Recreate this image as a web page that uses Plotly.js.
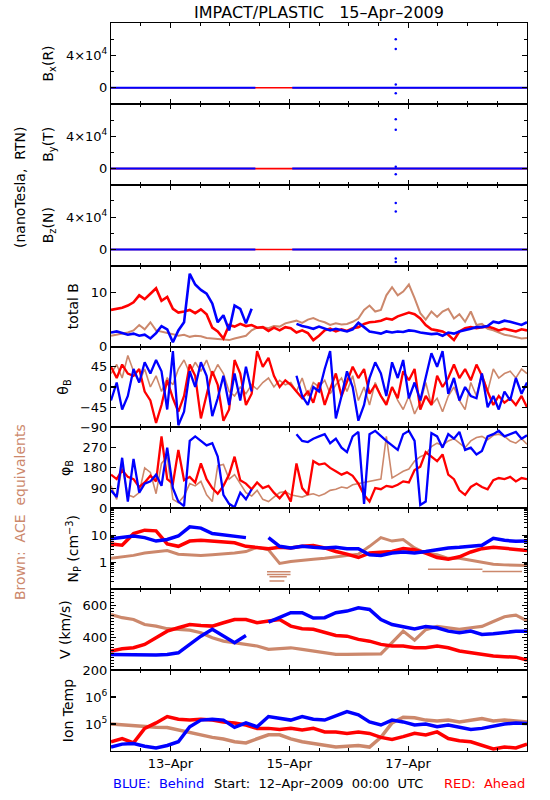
<!DOCTYPE html>
<html>
<head>
<meta charset="utf-8">
<script src="https://cdn.plot.ly/plotly-3.0.1.min.js"></script>
<style>body{margin:0;padding:0;background:#fff;} #plot{width:550px;height:800px;}</style>
</head>
<body>
<div id="plot"></div>
<script>
// ---------- DATA (hours after 12-Apr-2009 00:00 UTC) ----------
const tF = [0,2.3,4.5,6.8,9.1,11.4,13.6,15.9,18.2,20.4,
22.7,25,27.2,29.5,31.8,34,36.3,38.6,40.9,43.1,
45.4,47.7,49.9,52.2,54.5,56.8,59,61.3,63.6,65.8,
68.1,70.4,72.6,74.9,77.2,79.5,81.7,84,86.3,88.5,
90.8,93.1,95.3,97.6,99.9,102.2,104.4,106.7,109,111.2,
113.5,115.8,118,120.3,122.6,124.9,127.1,129.4,131.7,133.9,
136.2,138.5,140.7,143,145.3,147.6,149.8,152.1,154.4,156.6,
158.9,161.2,163.5,165.8,168];
const tG = [0,4.5,9.1,13.6,18.2,22.7,27.2,31.8,36.3,40.9,
45.4,49.9,54.5,59,63.6,68.1,72.6,77.2,81.7,86.3,
90.8,95.3,99.9,104.4,109,113.5,118,122.6,127.1,131.7,
136.2,140.7,145.3,149.8,154.4,158.9,163.5,168];

// Bx/By/Bz: flat traces and isolated spikes
const magBlueT = [0,58.3,null,73.2,168];
const magBlueV = [0,0,null,0,0];
const magRedT = [0,168];
const magRedV = [0,0];
const spikeT = [115,115,115,115];
const bxSpikes = [60000,48000,4000,-6700];
const bySpikes = [61000,48000,2400,-7000];
const bzSpikes = [57500,47000,-11000,-15500];

// total B (nT)
const btRed = [6.8,7.0,7.2,7.6,8.2,9.5,8.8,9.8,10.8,8.5,
9.2,7.0,6.3,6.5,6.8,6.2,6.9,6.0,3.5,2.8,
1.5,4.0,3.7,4.2,3.8,4.0,3.5,3.6,2.9,3.5,
3.0,3.6,3.4,2.6,3.0,2.5,1.2,2.0,3.0,3.3,
2.8,3.2,2.9,3.4,3.6,4.2,4.5,4.6,4.8,5.2,
5.0,5.6,5.9,6.3,6.0,5.2,4.0,3.2,3.0,2.8,
2.2,1.2,2.8,3.4,3.6,3.4,3.6,3.7,3.4,3.0,
3.3,3.0,2.8,3.2,3.0];
const btBlue = [2.6,2.8,2.5,2.2,2.4,2.0,2.2,1.5,2.5,3.8,
3.2,0.8,3.0,4.5,13.5,11.5,10.5,9.8,8.0,4.5,
5.8,3.0,7.6,7.0,4.3,7.0,null,null,null,null,
null,null,null,4.2,3.8,3.6,3.3,3.7,3.4,3.0,
3.3,3.1,2.8,3.2,4.4,3.6,2.8,2.6,2.4,2.8,
2.6,2.8,2.7,3.0,2.9,2.6,2.5,2.3,2.4,2.0,
2.6,2.4,2.8,3.0,3.3,3.6,3.6,3.8,4.6,4.4,
4.8,4.6,4.3,4.0,4.5];
const btBrown = [2.0,2.2,2.5,2.6,3.0,4.0,3.2,4.5,3.0,2.8,
2.5,2.3,2.0,2.2,1.8,2.0,1.9,1.6,1.5,1.4,
1.3,1.2,1.5,1.8,2.0,3.0,3.5,3.6,3.4,3.8,
3.7,4.3,4.5,4.8,4.4,5.0,5.3,4.8,4.5,4.0,
4.3,4.1,4.2,4.6,5.2,6.8,7.6,6.5,6.8,9.5,
11.0,9.5,10.2,11.5,9.0,6.2,5.0,6.5,5.5,6.5,
7.0,5.2,6.0,4.6,6.5,4.0,4.2,3.3,3.0,2.6,
2.2,2.0,1.8,1.5,1.6];

// theta_B (deg)
const thRed = [45,20,50,30,25,40,-10,-30,-80,-40,
15,-25,-55,-20,50,25,-70,-15,35,5,
-75,-50,60,30,-40,-15,80,45,65,25,
0,15,5,-10,-25,-10,-35,10,-40,-5,
30,-20,10,45,20,40,-15,5,-20,-40,
0,-25,35,15,40,-50,-20,-40,25,0,
20,50,20,40,15,50,25,-10,-40,-20,
-35,-25,-40,-20,-45];
const thBlue = [-30,10,-50,-20,40,10,55,30,60,35,
-50,80,-85,-55,35,0,55,25,-65,-25,
25,-40,30,-30,45,-10,null,null,null,null,
null,null,null,25,-20,-40,0,-10,40,80,
-70,-20,35,0,-75,-40,20,55,30,-20,
55,20,60,-25,10,-30,20,75,45,80,
-15,20,-30,0,-20,-25,30,-45,-20,-50,
-10,-30,20,-15,10];
const thBrown = [30,50,20,70,35,10,40,0,25,-10,
20,5,40,60,30,55,35,60,25,50,
30,-10,-20,0,-15,5,-5,10,20,0,
15,5,10,-10,20,-20,10,0,15,-15,
5,20,-10,25,-30,0,-40,10,-20,-35,
0,-30,-50,-20,-60,-35,10,-40,-25,-55,
-20,0,-30,-50,10,-20,30,-10,40,20,
30,35,20,40,30];

// phi_B (deg)
const phRed = [150,130,170,140,130,95,115,145,120,320,
130,110,260,125,140,115,200,130,90,65,
100,150,230,125,110,85,115,90,100,70,
45,75,30,200,90,60,210,195,200,180,
165,150,160,145,110,60,30,90,85,100,
95,105,120,115,170,185,250,230,210,240,
150,130,80,60,95,110,95,85,125,135,
130,140,120,135,130];
const phBlue = [80,50,225,30,220,70,110,120,150,100,
270,90,30,10,300,320,300,280,290,230,
60,20,5,70,40,85,null,null,null,null,
null,null,null,330,300,295,310,320,330,290,
310,270,250,320,340,20,330,345,320,300,
280,260,330,345,300,15,30,335,320,270,
330,310,340,260,270,240,255,320,330,345,
320,330,340,310,325];
const phBrown = [100,40,190,60,50,70,180,160,65,200,
230,40,25,55,110,100,120,60,30,190,
195,130,150,110,70,55,80,40,30,50,
70,75,60,55,50,60,65,55,65,80,
85,95,90,105,110,115,120,125,130,320,
135,150,165,175,210,230,240,275,290,280,
300,310,290,270,300,315,320,305,325,330,
320,300,290,310,285];

// proton density (cm^-3)
const npBlue = [7.5,8.2,9.4,8.2,6.1,7,9.4,20.7,18.5,11.6,
10.3,8.6,8.2,null,8.2,3.9,3.4,3.9,3.6,3.4,
3.6,3.2,3.2,1.9,1.8,2.2,2.4,2.2,2.5,2.9,
3.4,3.6,3.9,4.3,7.7,6.5,6.0,6.2];
const npRed = [4.8,4.3,11.5,15.5,14.6,4.8,3.9,6.1,6.5,6.1,
5.7,5.3,3.9,3.6,3.2,3.6,3.4,3.9,4.2,3.4,
2.5,2.0,1.5,2.2,2.4,2.5,3.2,2.9,2.2,1.5,
1.3,1.6,2.4,3.2,3.6,3.4,3.0,2.7];
const npBrown = [1.4,1.6,1.8,2.2,2.5,2.7,2.0,1.9,1.8,1.9,
2.0,2.2,2.5,3.6,2.9,0.9,1.06,1.2,1.3,1.4,
1.6,1.8,2.0,3.9,8.2,6.1,7,3.4,2.2,1.9,
1.4,1.4,1.2,1.0,0.84,0.8,0.8,0.75];
const npBrownLowT = [63,72.5,null,63,72.5,null,64,71,null,64,70,null,128,150,null,150,166];
const npBrownLowV = [0.44,0.44,null,0.35,0.35,null,0.29,0.29,null,0.2,0.2,null,0.55,0.55,null,0.45,0.45];

// bulk speed (km/s)
const vBlue = [297,296,294,293,294,297,307,359,410,452,
410,369,414,null,497,524,555,555,522,524,
555,565,585,575,513,482,470,455,470,462,
441,431,441,420,425,431,440,440];
const vRed = [318,332,338,359,400,441,462,482,476,472,
493,513,513,493,503,513,472,456,452,431,
414,410,390,379,359,349,349,338,338,349,
338,318,307,297,287,283,280,262];
const vBrown = [544,524,513,482,472,456,452,447,431,400,
379,369,359,349,328,332,338,328,318,307,
297,297,297,297,300,370,441,385,450,470,
460,452,462,470,500,530,540,505];

// ion temperature (K)
const tpBlue = [1.4e4,1.8e4,1.9e4,1.5e4,1.3e4,1.6e4,2.2e4,7.9e4,1.4e5,1.5e5,
1.4e5,7.5e4,1.1e5,7.9e4,1.9e5,1.6e5,1.4e5,1.9e5,1.5e5,1.4e5,
2.0e5,2.9e5,2.2e5,1.2e5,9.2e4,1.4e5,1.2e5,9.2e4,1.0e5,7.9e4,
9.2e4,7.5e4,6.3e4,6.9e4,8.5e4,1.0e5,1.1e5,1.05e5];
const tpRed = [2.2e4,2.9e4,2.0e4,6.9e4,1.1e5,1.9e5,1.5e5,1.4e5,1.5e5,1.4e5,
1.2e5,1.1e5,9.2e4,6.9e4,6.9e4,6.3e4,6.9e4,6.0e4,6.9e4,5.1e4,
5.1e4,4.5e4,5.1e4,4.5e4,3.2e4,2.7e4,3.4e4,4.5e4,3.9e4,5.1e4,
2.9e4,2.4e4,2.2e4,1.6e4,1.2e4,1.4e4,1.3e4,1.8e4];
const tpBrown = [1.0e5,9.3e4,8.9e4,7.9e4,7.6e4,7.4e4,6.0e4,4.8e4,4.0e4,3.2e4,
2.8e4,2.2e4,2.0e4,2.8e4,4.0e4,4.0e4,2.8e4,2.2e4,1.9e4,1.6e4,
1.4e4,1.5e4,1.6e4,1.4e4,3.2e4,1.1e5,1.8e5,1.7e5,1.4e5,1.3e5,
1.4e5,1.2e5,1.4e5,1.6e5,1.3e5,1.4e5,1.3e5,1.2e5];

// axis tick labels
const dateTickVals = ['2009-04-13','2009-04-15','2009-04-17','2009-04-19'];
const dateTickText = ['13\u2013Apr','15\u2013Apr','17\u2013Apr','19\u2013Apr'];

// ---------- BUILD ----------
const BLUE = '#0000ff', RED = '#ff0000', BROWN = 'rgb(204,136,108)';
const START = Date.UTC(2009,3,12,0,0,0);
function toDates(hrs){
  return hrs.map(h => h === null ? null :
    new Date(START + h*3600000).toISOString().replace('T',' ').slice(0,19));
}
const FONT = 'DejaVu Sans, Liberation Sans, sans-serif';
const traces = [];
function line(t, v, color, n, w, mode){
  traces.push({x: toDates(t), y: v, xaxis: n===1?'x':'x'+n, yaxis: n===1?'y':'y'+n,
    type:'scatter', mode: mode || 'lines', connectgaps:false, hoverinfo:'skip',
    line:{color:color, width:w||2}, marker:{color:color, size:2.5}, showlegend:false});
}
// panels 1-3
[[bxSpikes,1],[bySpikes,2],[bzSpikes,3]].forEach(([sp,n])=>{
  line(magRedT, magRedV, RED, n, 1.6);
  line(magBlueT, magBlueV, BLUE, n, 2);
  line(spikeT, sp, BLUE, n, 1, 'markers');
});
line(tF, btBrown, BROWN, 4, 2); line(tF, btRed, RED, 4, 2.6); line(tF, btBlue, BLUE, 4, 2.6);
line(tF, thBrown, BROWN, 5, 1.6); line(tF, thRed, RED, 5, 2.3); line(tF, thBlue, BLUE, 5, 2.3);
line(tF, phBrown, BROWN, 6, 1.6); line(tF, phRed, RED, 6, 2.3); line(tF, phBlue, BLUE, 6, 2.3);
line(tG, npBrown, BROWN, 7, 3); line(npBrownLowT, npBrownLowV, BROWN, 7, 1.5);
line(tG, npRed, RED, 7, 3.5); line(tG, npBlue, BLUE, 7, 3.5);
line(tG, vBrown, BROWN, 8, 3.2); line(tG, vRed, RED, 8, 3.5); line(tG, vBlue, BLUE, 8, 3.5);
line(tG, tpBrown, BROWN, 9, 3.5); line(tG, tpRed, RED, 9, 3.5); line(tG, tpBlue, BLUE, 9, 3.5);

const yDefs = [
  {title:'B<sub>x</sub>(R)', range:[-20000,80000], tickvals:[0,40000], ticktext:['0','4\u00d710<sup>4</sup>'], minor:[20000,60000]},
  {title:'B<sub>y</sub>(T)', range:[-20000,80000], tickvals:[0,40000], ticktext:['0','4\u00d710<sup>4</sup>'], minor:[20000,60000]},
  {title:'B<sub>z</sub>(N)', range:[-20000,80000], tickvals:[0,40000], ticktext:['0','4\u00d710<sup>4</sup>'], minor:[20000,60000]},
  {title:'total B', range:[0,15], tickvals:[0,10], ticktext:['0','10']},
  {title:'\u03b8<sub>B</sub>', range:[-90,90], tickvals:[-90,-45,0,45], ticktext:['\u221290','\u221245','0','45']},
  {title:'\u03c6<sub>B</sub>', range:[0,360], tickvals:[0,90,180,270], ticktext:['0','90','180','270']},
  {title:'N<sub>P</sub> (cm<sup>\u22123</sup>)', type:'log', range:[-1,2], tickvals:[1,10], ticktext:['1','10'],
   minor:[0.2,0.3,0.4,0.5,0.6,0.7,0.8,0.9,2,3,4,5,6,7,8,9,20,30,40,50,60,70,80,90]},
  {title:'V (km/s)', range:[200,700], tickvals:[200,400,600], ticktext:['200','400','600'],
   minor:[220,240,260,280,300,320,340,360,380,420,440,460,480,500,520,540,560,580,620,640,660,680]},
  {title:'Ion Temp', type:'log', range:[4,7], tickvals:[1e5,1e6], ticktext:['10<sup>5</sup>','10<sup>6</sup>']}
];

const layout = {
  width:550, height:800, paper_bgcolor:'#fff', plot_bgcolor:'#fff',
  margin:{l:111, r:23, t:23, b:49},
  font:{family:FONT, size:13, color:'#000'},
  title:{text:'IMPACT/PLASTIC\u00a0\u00a0\u00a015\u2013Apr\u20132009', x:0.5, xref:'paper', xanchor:'center',
         y:1-12/800, yref:'container', yanchor:'middle', font:{family:FONT, size:16, color:'#000'}},
  showlegend:false,
  annotations:[
    {text:'(nanoTesla,\u00a0 RTN)', xref:'paper', yref:'paper', x:-(111-20)/416, y:1-(188-23)/728,
     xanchor:'center', yanchor:'middle', textangle:-90, showarrow:false, font:{family:FONT, size:14, color:'#000'}},
    {text:'Brown:\u00a0 ACE\u00a0 equivalents', xref:'paper', yref:'paper', x:-(111-20)/416, y:1-(512-23)/728,
     xanchor:'center', yanchor:'middle', textangle:-90, showarrow:false, font:{family:FONT, size:14, color:BROWN}},
    {text:'BLUE:\u00a0 Behind', xref:'paper', yref:'paper', x:0, xanchor:'left', y:-(783-751)/728, yanchor:'middle',
     showarrow:false, font:{family:FONT, size:13, color:BLUE}},
    {text:'Start:\u00a0 12\u2013Apr\u20132009\u00a0 00:00\u00a0 UTC', xref:'paper', yref:'paper', x:(318-111)/416, xanchor:'center',
     y:-(783-751)/728, yanchor:'middle', showarrow:false, font:{family:FONT, size:13, color:'#000'}},
    {text:'RED:\u00a0 Ahead', xref:'paper', yref:'paper', x:1, xanchor:'right', y:-(783-751)/728, yanchor:'middle',
     showarrow:false, font:{family:FONT, size:13, color:RED}}
  ]
};

for (let i=0;i<9;i++){
  const n = i+1;
  const xk = n===1?'xaxis':'xaxis'+n;
  const yk = n===1?'yaxis':'yaxis'+n;
  layout[xk] = {
    type:'date', range:['2009-04-12 00:00:00','2009-04-19 00:00:00'], anchor: n===1?'y':'y'+n,
    showline:true, mirror:'ticks', linecolor:'#000', linewidth:1,
    ticks:'inside', ticklen:5, tickcolor:'#000', tickwidth:1.2,
    tickmode:'array', tickvals:dateTickVals, ticktext:dateTickText,
    showticklabels: n===9, tickfont:{family:FONT, size:13, color:'#000'},
    showgrid:false, zeroline:false, fixedrange:true,
    minor:{tickmode:'linear', tick0:'2009-04-12 00:00:00', dtick:43200000, ticks:'inside', ticklen:3, tickcolor:'#000', tickwidth:1, showgrid:false}
  };
  if (n>1) layout[xk].matches = 'x';
  const d = yDefs[i];
  const ya = {
    domain:[1-(i+1)/9, 1-i/9], anchor: n===1?'x':'x'+n, range:d.range,
    showline:true, mirror:'ticks', linecolor:'#000', linewidth:1,
    ticks:'inside', ticklen:5, tickcolor:'#000', tickwidth:1.2,
    tickmode:'array', tickvals:d.tickvals, ticktext:d.ticktext,
    tickfont:{family:FONT, size:13, color:'#000'},
    showgrid:false, zeroline:false, fixedrange:true,
    title:{text:d.title, font:{family:FONT, size:14, color:'#000'}, standoff:8}
  };
  if (d.type) ya.type = d.type;
  if (d.minor) ya.minor = {tickmode:'array', tickvals:d.minor, ticks:'inside', ticklen:3, tickcolor:'#000', tickwidth:1, showgrid:false};
  layout[yk] = ya;
}

Plotly.newPlot('plot', traces, layout, {staticPlot:true, displayModeBar:false});
</script>
</body>
</html>
